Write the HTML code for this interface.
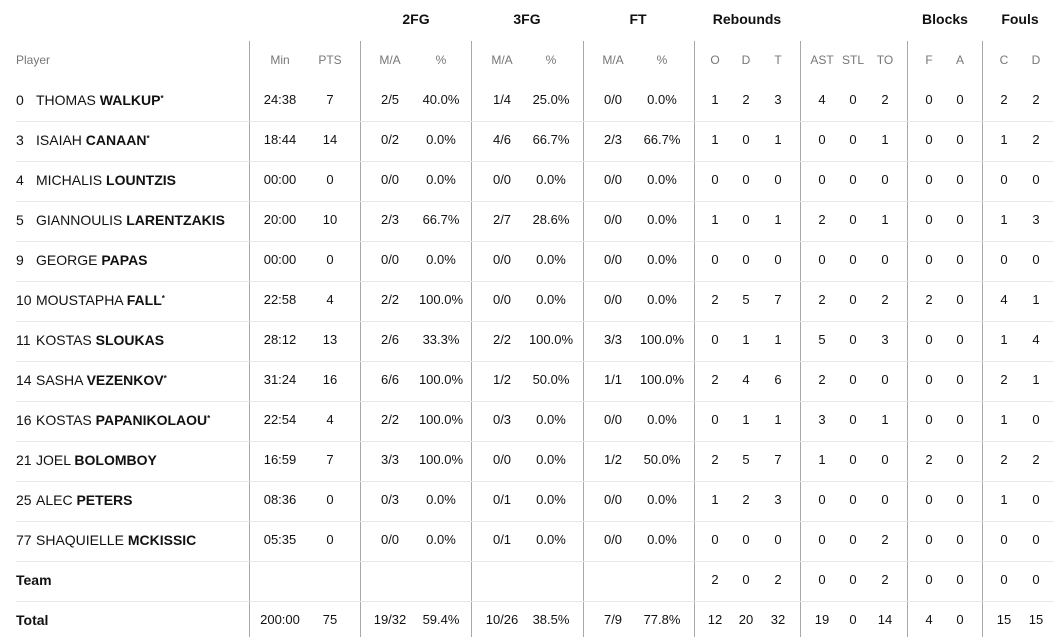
<!DOCTYPE html>
<html><head><meta charset="utf-8"><style>
body{margin:0;width:1054px;height:637px;background:#fff;font-family:"Liberation Sans",Arial,sans-serif;color:#111;overflow:hidden;position:relative}
.g{position:absolute;top:11px;font-weight:bold;font-size:14px;transform:translateX(-50%)}
.v{position:absolute;top:41px;height:596px;width:1px;background:#a8a8a8}
.s{position:absolute;left:16px;right:0;height:1px;background:#e8e8e8}
.r{position:absolute;left:0;width:1054px;height:20px;font-size:13px}
.r span{position:absolute;top:0;transform:translateX(-50%);white-space:nowrap}
.r span.p{transform:none;left:16px;font-size:14px}
.r span.p span.n{position:static;transform:none;display:inline-block;width:20px}
.h{color:#777;font-size:12px}
.h span.p{font-size:12px}
.c1{left:280px}.c2{left:330px}.c3{left:390px}.c4{left:441px}.c5{left:502px}.c6{left:551px}.c7{left:613px}.c8{left:662px}.c9{left:715px}.c10{left:746px}.c11{left:778px}.c12{left:822px}.c13{left:853px}.c14{left:885px}.c15{left:929px}.c16{left:960px}.c17{left:1004px}.c18{left:1036px}
b{font-weight:bold}sup{font-size:8px;vertical-align:4px;font-weight:bold}
</style></head><body>
<div class="g" style="left:416px">2FG</div><div class="g" style="left:527px">3FG</div><div class="g" style="left:638px">FT</div><div class="g" style="left:747px">Rebounds</div><div class="g" style="left:945px">Blocks</div><div class="g" style="left:1020px">Fouls</div>
<div class="v" style="left:249px"></div><div class="v" style="left:360px"></div><div class="v" style="left:471px"></div><div class="v" style="left:583px"></div><div class="v" style="left:694px"></div><div class="v" style="left:800px"></div><div class="v" style="left:907px"></div><div class="v" style="left:982px"></div>
<div class="s" style="top:121px"></div><div class="s" style="top:161px"></div><div class="s" style="top:201px"></div><div class="s" style="top:241px"></div><div class="s" style="top:281px"></div><div class="s" style="top:321px"></div><div class="s" style="top:361px"></div><div class="s" style="top:401px"></div><div class="s" style="top:441px"></div><div class="s" style="top:481px"></div><div class="s" style="top:521px"></div><div class="s" style="top:561px"></div><div class="s" style="top:601px"></div>
<div class="r h" style="top:53px"><span class="p">Player</span><span class="c1">Min</span><span class="c2">PTS</span><span class="c3">M/A</span><span class="c4">%</span><span class="c5">M/A</span><span class="c6">%</span><span class="c7">M/A</span><span class="c8">%</span><span class="c9">O</span><span class="c10">D</span><span class="c11">T</span><span class="c12">AST</span><span class="c13">STL</span><span class="c14">TO</span><span class="c15">F</span><span class="c16">A</span><span class="c17">C</span><span class="c18">D</span></div>
<div class="r" style="top:92px"><span class="p"><span class="n">0</span>THOMAS <b>WALKUP</b><sup>*</sup></span><span class="c1">24:38</span><span class="c2">7</span><span class="c3">2/5</span><span class="c4">40.0%</span><span class="c5">1/4</span><span class="c6">25.0%</span><span class="c7">0/0</span><span class="c8">0.0%</span><span class="c9">1</span><span class="c10">2</span><span class="c11">3</span><span class="c12">4</span><span class="c13">0</span><span class="c14">2</span><span class="c15">0</span><span class="c16">0</span><span class="c17">2</span><span class="c18">2</span></div>
<div class="r" style="top:132px"><span class="p"><span class="n">3</span>ISAIAH <b>CANAAN</b><sup>*</sup></span><span class="c1">18:44</span><span class="c2">14</span><span class="c3">0/2</span><span class="c4">0.0%</span><span class="c5">4/6</span><span class="c6">66.7%</span><span class="c7">2/3</span><span class="c8">66.7%</span><span class="c9">1</span><span class="c10">0</span><span class="c11">1</span><span class="c12">0</span><span class="c13">0</span><span class="c14">1</span><span class="c15">0</span><span class="c16">0</span><span class="c17">1</span><span class="c18">2</span></div>
<div class="r" style="top:172px"><span class="p"><span class="n">4</span>MICHALIS <b>LOUNTZIS</b></span><span class="c1">00:00</span><span class="c2">0</span><span class="c3">0/0</span><span class="c4">0.0%</span><span class="c5">0/0</span><span class="c6">0.0%</span><span class="c7">0/0</span><span class="c8">0.0%</span><span class="c9">0</span><span class="c10">0</span><span class="c11">0</span><span class="c12">0</span><span class="c13">0</span><span class="c14">0</span><span class="c15">0</span><span class="c16">0</span><span class="c17">0</span><span class="c18">0</span></div>
<div class="r" style="top:212px"><span class="p"><span class="n">5</span>GIANNOULIS <b>LARENTZAKIS</b></span><span class="c1">20:00</span><span class="c2">10</span><span class="c3">2/3</span><span class="c4">66.7%</span><span class="c5">2/7</span><span class="c6">28.6%</span><span class="c7">0/0</span><span class="c8">0.0%</span><span class="c9">1</span><span class="c10">0</span><span class="c11">1</span><span class="c12">2</span><span class="c13">0</span><span class="c14">1</span><span class="c15">0</span><span class="c16">0</span><span class="c17">1</span><span class="c18">3</span></div>
<div class="r" style="top:252px"><span class="p"><span class="n">9</span>GEORGE <b>PAPAS</b></span><span class="c1">00:00</span><span class="c2">0</span><span class="c3">0/0</span><span class="c4">0.0%</span><span class="c5">0/0</span><span class="c6">0.0%</span><span class="c7">0/0</span><span class="c8">0.0%</span><span class="c9">0</span><span class="c10">0</span><span class="c11">0</span><span class="c12">0</span><span class="c13">0</span><span class="c14">0</span><span class="c15">0</span><span class="c16">0</span><span class="c17">0</span><span class="c18">0</span></div>
<div class="r" style="top:292px"><span class="p"><span class="n">10</span>MOUSTAPHA <b>FALL</b><sup>*</sup></span><span class="c1">22:58</span><span class="c2">4</span><span class="c3">2/2</span><span class="c4">100.0%</span><span class="c5">0/0</span><span class="c6">0.0%</span><span class="c7">0/0</span><span class="c8">0.0%</span><span class="c9">2</span><span class="c10">5</span><span class="c11">7</span><span class="c12">2</span><span class="c13">0</span><span class="c14">2</span><span class="c15">2</span><span class="c16">0</span><span class="c17">4</span><span class="c18">1</span></div>
<div class="r" style="top:332px"><span class="p"><span class="n">11</span>KOSTAS <b>SLOUKAS</b></span><span class="c1">28:12</span><span class="c2">13</span><span class="c3">2/6</span><span class="c4">33.3%</span><span class="c5">2/2</span><span class="c6">100.0%</span><span class="c7">3/3</span><span class="c8">100.0%</span><span class="c9">0</span><span class="c10">1</span><span class="c11">1</span><span class="c12">5</span><span class="c13">0</span><span class="c14">3</span><span class="c15">0</span><span class="c16">0</span><span class="c17">1</span><span class="c18">4</span></div>
<div class="r" style="top:372px"><span class="p"><span class="n">14</span>SASHA <b>VEZENKOV</b><sup>*</sup></span><span class="c1">31:24</span><span class="c2">16</span><span class="c3">6/6</span><span class="c4">100.0%</span><span class="c5">1/2</span><span class="c6">50.0%</span><span class="c7">1/1</span><span class="c8">100.0%</span><span class="c9">2</span><span class="c10">4</span><span class="c11">6</span><span class="c12">2</span><span class="c13">0</span><span class="c14">0</span><span class="c15">0</span><span class="c16">0</span><span class="c17">2</span><span class="c18">1</span></div>
<div class="r" style="top:412px"><span class="p"><span class="n">16</span>KOSTAS <b>PAPANIKOLAOU</b><sup>*</sup></span><span class="c1">22:54</span><span class="c2">4</span><span class="c3">2/2</span><span class="c4">100.0%</span><span class="c5">0/3</span><span class="c6">0.0%</span><span class="c7">0/0</span><span class="c8">0.0%</span><span class="c9">0</span><span class="c10">1</span><span class="c11">1</span><span class="c12">3</span><span class="c13">0</span><span class="c14">1</span><span class="c15">0</span><span class="c16">0</span><span class="c17">1</span><span class="c18">0</span></div>
<div class="r" style="top:452px"><span class="p"><span class="n">21</span>JOEL <b>BOLOMBOY</b></span><span class="c1">16:59</span><span class="c2">7</span><span class="c3">3/3</span><span class="c4">100.0%</span><span class="c5">0/0</span><span class="c6">0.0%</span><span class="c7">1/2</span><span class="c8">50.0%</span><span class="c9">2</span><span class="c10">5</span><span class="c11">7</span><span class="c12">1</span><span class="c13">0</span><span class="c14">0</span><span class="c15">2</span><span class="c16">0</span><span class="c17">2</span><span class="c18">2</span></div>
<div class="r" style="top:492px"><span class="p"><span class="n">25</span>ALEC <b>PETERS</b></span><span class="c1">08:36</span><span class="c2">0</span><span class="c3">0/3</span><span class="c4">0.0%</span><span class="c5">0/1</span><span class="c6">0.0%</span><span class="c7">0/0</span><span class="c8">0.0%</span><span class="c9">1</span><span class="c10">2</span><span class="c11">3</span><span class="c12">0</span><span class="c13">0</span><span class="c14">0</span><span class="c15">0</span><span class="c16">0</span><span class="c17">1</span><span class="c18">0</span></div>
<div class="r" style="top:532px"><span class="p"><span class="n">77</span>SHAQUIELLE <b>MCKISSIC</b></span><span class="c1">05:35</span><span class="c2">0</span><span class="c3">0/0</span><span class="c4">0.0%</span><span class="c5">0/1</span><span class="c6">0.0%</span><span class="c7">0/0</span><span class="c8">0.0%</span><span class="c9">0</span><span class="c10">0</span><span class="c11">0</span><span class="c12">0</span><span class="c13">0</span><span class="c14">2</span><span class="c15">0</span><span class="c16">0</span><span class="c17">0</span><span class="c18">0</span></div>
<div class="r" style="top:572px"><span class="p"><b>Team</b></span><span class="c9">2</span><span class="c10">0</span><span class="c11">2</span><span class="c12">0</span><span class="c13">0</span><span class="c14">2</span><span class="c15">0</span><span class="c16">0</span><span class="c17">0</span><span class="c18">0</span></div>
<div class="r" style="top:612px"><span class="p"><b>Total</b></span><span class="c1">200:00</span><span class="c2">75</span><span class="c3">19/32</span><span class="c4">59.4%</span><span class="c5">10/26</span><span class="c6">38.5%</span><span class="c7">7/9</span><span class="c8">77.8%</span><span class="c9">12</span><span class="c10">20</span><span class="c11">32</span><span class="c12">19</span><span class="c13">0</span><span class="c14">14</span><span class="c15">4</span><span class="c16">0</span><span class="c17">15</span><span class="c18">15</span></div>
</body></html>
